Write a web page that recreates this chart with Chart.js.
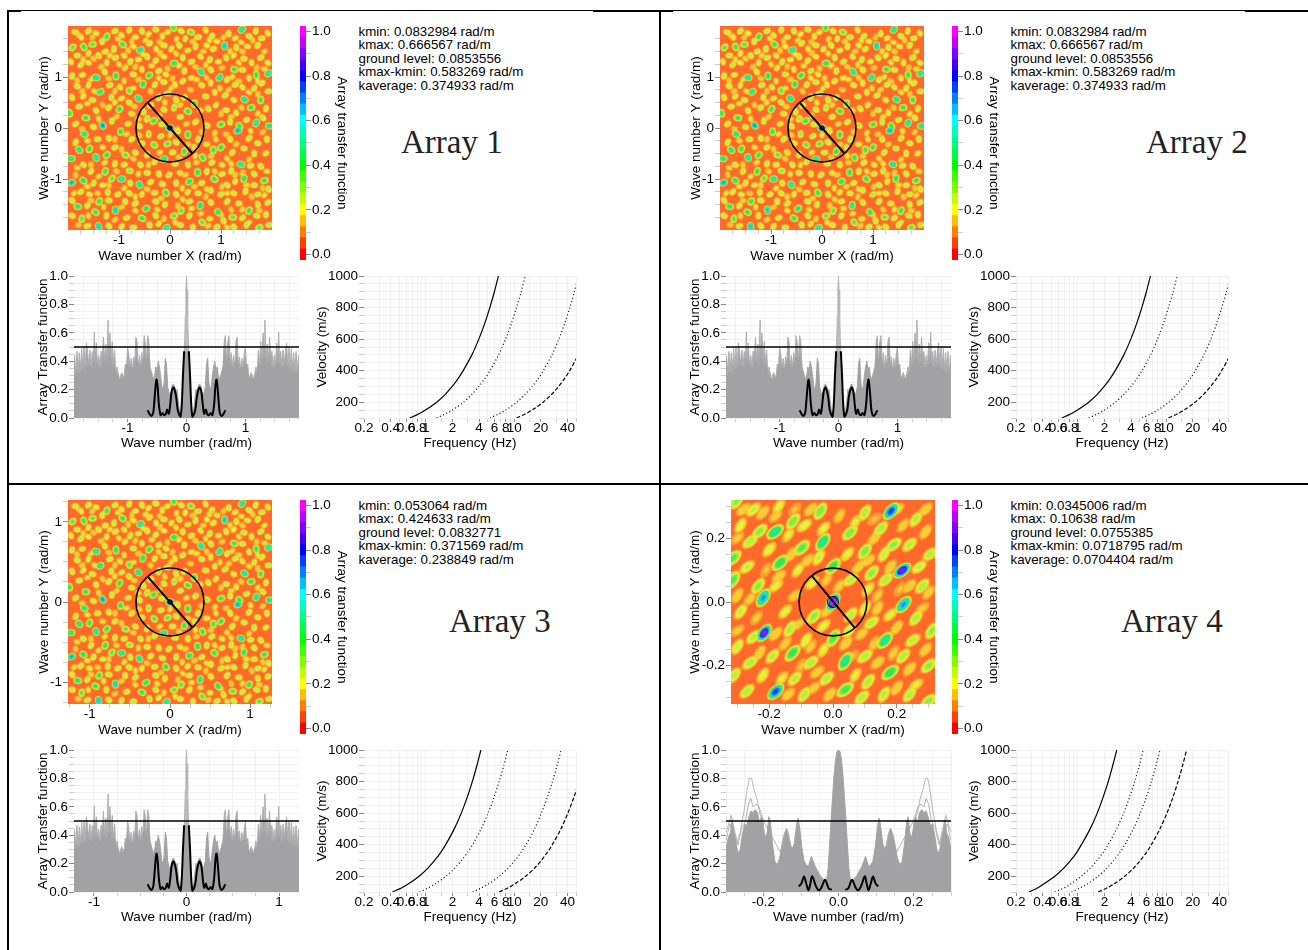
<!DOCTYPE html>
<html>
<head>
<meta charset="utf-8">
<script src="https://cdn.jsdelivr.net/npm/chart.js@4"></script>
<style>
    html, body { margin: 0; background: #fff; }
    body { position: relative; width: 1308px; height: 950px; overflow: hidden; font-family: "Liberation Sans", Arial, sans-serif; color: #000; }
    canvas { position: absolute; }
    .rule { position: absolute; background: #000; }
    .info { position: absolute; font-size: 13.3px; line-height: 13.4px; white-space: pre; }
    .name { position: absolute; font-family: "Liberation Serif", serif; font-size: 33px; line-height: 36px; color: #222; white-space: pre; }
</style>
</head>
<body>
<script>
// values

const bandFloors = [0.125, 0.175, 0.225, 0.275, 0.325, 0.375, 0.425, 0.475, 0.525, 0.575, 0.625, 0.675, 0.725, 0.775, 0.825, 0.875, 0.925, 0.975]
const heatColors = ['#fca032', '#f6ce32', '#e8f03a', '#b6f03a', '#86ec44', '#52e84c', '#32e45c', '#24e48c', '#20e4b8', '#1ee4e4', '#1ec4f0', '#1e90f0', '#1e60f0', '#1e2cf0', '#4a20f0', '#8a20e8', '#c420e4', '#f020e0']
const groundColor = '#ff6a2b'

const barLevels = [0, 0.05, 0.1, 0.15, 0.2, 0.25, 0.3, 0.35, 0.4, 0.45, 0.5, 0.55, 0.6, 0.65, 0.7, 0.75, 0.8, 0.85, 0.9, 0.95, 1]
const barColors = ['#ff0000', '#ff4000', '#ff8000', '#ffbf00', '#ffff00', '#bfff00', '#80ff00', '#40ff00', '#00ff00', '#00ff40', '#00ff80', '#00ffbf', '#00ffff', '#00bfff', '#0080ff', '#0040ff', '#0000ff', '#4000ff', '#8000ff', '#bf00ff', '#ff00ff']
const barTicks = [0, 0.1, 0.2, 0.3, 0.4, 0.5, 0.6, 0.7, 0.8, 0.9, 1]

// peaks of the transfer map, arrays 1 to 3: x, y, level
const peaksMain = [
    [0, 0, 1], [0.07, 1.97, 0.4], [1.41, 1.93, 0.55], [0.41, 1.88, 0.35], [1.07, 1.61, 0.6], [-0.58, 1.53, 0.55], [-0.93, 1.64, 0.42],
    [-1.24, 1.79, 0.4], [-1.52, 1.64, 0.36], [-1.69, 1.59, 0.4], [-1.91, 1.58, 0.36], [-1.45, 0.99, 0.55], [-1.06, 1.02, 0.45], [-1.37, 0.71, 0.5],
    [-0.62, 0.58, 0.55], [-0.53, 0.86, 0.45], [0.08, 1.27, 0.45], [0.61, 1.1, 0.55], [0.97, 0.99, 0.55], [1.26, 1.15, 0.4], [1.69, 1.04, 0.42],
    [1.93, 1.07, 0.55], [1.46, 0.56, 0.55], [1.78, 0.55, 0.4], [1.59, 0.4, 0.42], [-1.32, 0.05, 0.65], [-0.99, 0.37, 0.42], [-1.65, 0.2, 0.42],
    [-1.97, 0.29, 0.42], [-0.32, 0.14, 0.42], [0.35, 0.33, 0.4], [0.48, 0.48, 0.4], [1, 0.07, 0.4], [1.36, 0.04, 0.42], [1.69, 0.1, 0.55],
    [1.95, 0.04, 0.5], [-0.8, 0.73, 0.36], [-0.41, 1.03, 0.42], [-1.68, -0.12, 0.5], [-0.97, -0.07, 0.42], [1.33, -0.05, 0.62], [-1.78, -0.43, 0.5],
    [-1.58, -0.41, 0.42], [-1.94, -0.6, 0.5], [-1.45, -0.58, 0.55], [-1.24, -0.53, 0.42], [-0.87, -0.53, 0.36], [0.35, -0.13, 0.42], [-0.05, -0.31, 0.36],
    [-0.31, -0.33, 0.36], [0.28, -0.46, 0.42], [-0.12, -0.61, 0.55], [0.64, -0.58, 0.42], [1, -0.38, 0.42], [1.39, -0.71, 0.55], [0.85, -0.43, 0.4],
    [-1.93, -1.07, 0.62], [-1.7, -1.03, 0.45], [-1.27, -0.85, 0.42], [-0.95, -1, 0.55], [-0.6, -1.11, 0.55], [-1.14, -0.99, 0.36], [-0.79, -0.84, 0.32],
    [0.54, -0.87, 0.45], [0.38, -1.05, 0.45], [0.87, -1, 0.42], [1.45, -0.99, 0.45], [1.85, -1.03, 0.42], [-0.08, -1.27, 0.42], [-1.39, -1.44, 0.42],
    [-1.81, -1.54, 0.45], [-1.07, -1.61, 0.6], [-0.47, -1.58, 0.45], [-1.46, -1.65, 0.42], [0.59, -1.52, 0.5], [0.08, -1.72, 0.36], [0.94, -1.65, 0.45],
    [1.55, -1.62, 0.42], [1.23, -1.75, 0.36], [-1.4, -1.93, 0.6], [-0.07, -1.96, 0.55], [-0.55, -1.77, 0.42], [-1.73, -1.78, 0.36], [1.75, -1.95, 0.36],
    [0.63, -1.85, 0.36], [0.22, -1.62, 0.36],
    [-1.86, 1.88, 0.26], [-1.74, 1.78, 0.24], [-1.6, 1.9, 0.28], [-1.45, 1.86, 0.24], [-1.33, 1.7, 0.26], [-1.08, 1.9, 0.27], [-0.95, 1.82, 0.25], [-0.8, 1.92, 0.26],
    [-0.68, 1.78, 0.25], [-0.55, 1.9, 0.27], [-0.42, 1.84, 0.24], [-0.28, 1.93, 0.27], [-0.15, 1.8, 0.25], [-0.05, 1.88, 0.24], [0.22, 1.9, 0.26], [0.3, 1.75, 0.25],
    [0.55, 1.78, 0.28], [0.7, 1.92, 0.25], [0.82, 1.8, 0.27], [0.92, 1.7, 0.24], [1.15, 1.85, 0.26], [1.28, 1.76, 0.24], [1.55, 1.8, 0.28], [1.68, 1.9, 0.26],
    [1.8, 1.76, 0.27], [1.92, 1.86, 0.25], [1.72, 1.62, 0.27], [1.52, 1.6, 0.25], [1.3, 1.58, 0.27], [0.85, 1.55, 0.26], [0.72, 1.62, 0.24], [0.5, 1.6, 0.27],
    [0.35, 1.52, 0.25], [0.18, 1.62, 0.27], [0.03, 1.55, 0.25], [-0.12, 1.62, 0.27], [-0.27, 1.55, 0.24], [-0.4, 1.66, 0.26], [-0.72, 1.6, 0.24], [-1.1, 1.55, 0.28],
    [-1.27, 1.5, 0.26], [-1.4, 1.42, 0.27], [-1.6, 1.46, 0.25], [-1.82, 1.42, 0.27], [-1.94, 1.3, 0.25], [-1.75, 1.24, 0.27], [-1.6, 1.28, 0.24], [-1.24, 1.28, 0.25],
    [-1.07, 1.38, 0.27], [-0.9, 1.42, 0.25], [-0.78, 1.3, 0.28], [-0.62, 1.34, 0.25], [-0.45, 1.4, 0.27], [-0.28, 1.32, 0.26], [-0.12, 1.4, 0.24], [0.25, 1.38, 0.26],
    [0.42, 1.3, 0.27], [0.6, 1.4, 0.25], [0.78, 1.34, 0.27], [0.95, 1.3, 0.24], [1.1, 1.38, 0.27], [1.25, 1.42, 0.24], [1.45, 1.36, 0.27], [1.6, 1.28, 0.25],
    [1.78, 1.38, 0.28], [1.92, 1.28, 0.25], [-1.92, 1.02, 0.27], [-1.72, 1.04, 0.25], [-1.28, 1.1, 0.26], [-0.88, 1.18, 0.25], [-0.72, 1.05, 0.27], [-0.55, 1.15, 0.25],
    [-0.22, 1.12, 0.27], [-0.08, 1.05, 0.25], [0.28, 1.12, 0.27], [0.42, 0.98, 0.24], [0.8, 1.14, 0.27], [1.12, 0.95, 0.26], [1.42, 1.14, 0.27], [1.55, 0.98, 0.25],
    [1.8, 0.88, 0.27], [-1.82, 0.82, 0.27], [-1.6, 0.84, 0.25], [-1.18, 0.84, 0.27], [-0.98, 0.8, 0.25], [-0.3, 0.85, 0.26], [-0.12, 0.9, 0.27], [0.1, 0.85, 0.25],
    [0.25, 0.92, 0.27], [0.62, 0.84, 0.26], [0.8, 0.88, 0.25], [1.28, 0.85, 0.27], [1.42, 0.8, 0.25], [1.65, 0.78, 0.26], [1.93, 0.72, 0.28], [-1.92, 0.6, 0.27],
    [-1.7, 0.62, 0.25], [-1.52, 0.55, 0.27], [-1.15, 0.6, 0.26], [-0.95, 0.58, 0.25], [-0.8, 0.5, 0.27], [-0.22, 0.6, 0.3], [-0.05, 0.68, 0.27], [0.12, 0.55, 0.28],
    [0.28, 0.6, 0.26], [0.7, 0.62, 0.27], [0.88, 0.7, 0.25], [1.08, 0.64, 0.28], [1.25, 0.55, 0.25], [1.88, 0.38, 0.26], [-1.78, 0.42, 0.27], [-1.45, 0.34, 0.26],
    [-1.2, 0.4, 0.27], [-0.75, 0.28, 0.26], [-0.52, 0.32, 0.28], [-0.38, 0.44, 0.27], [-0.12, 0.36, 0.26], [0.08, 0.4, 0.3], [0.2, 0.22, 0.26], [0.75, 0.38, 0.28],
    [0.9, 0.45, 0.25], [1.1, 0.35, 0.27], [1.3, 0.3, 0.25], [-1.85, 0.08, 0.27], [-1.5, 0.02, 0.26], [-1.14, 0.14, 0.28], [-0.82, 0.08, 0.25], [-0.6, 0.04, 0.27],
    [-0.45, 0.18, 0.3], [-0.16, 0.07, 0.27], [0.15, -0.05, 0.28], [0.5, 0.12, 0.27], [0.72, 0.05, 0.3], [1.18, 0.12, 0.27], [1.5, 0.16, 0.26], [1.82, 0.2, 0.27],
    [-1.85, -0.28, 0.27], [-1.42, -0.22, 0.27], [-1.2, -0.2, 0.26], [-0.75, -0.22, 0.28], [-0.55, -0.3, 0.26], [-0.42, -0.12, 0.3], [-0.18, -0.16, 0.27], [0.12, -0.28, 0.28],
    [0.55, -0.22, 0.27], [0.72, -0.32, 0.25], [1.18, -0.22, 0.27], [1.55, -0.2, 0.28], [1.72, -0.3, 0.26], [1.9, -0.22, 0.27], [-1.08, -0.38, 0.27], [-0.68, -0.48, 0.26],
    [-0.45, -0.52, 0.28], [0.05, -0.48, 0.27], [0.48, -0.38, 0.26], [1.22, -0.48, 0.28], [1.45, -0.4, 0.26], [1.65, -0.5, 0.27], [1.88, -0.5, 0.25], [-1.7, -0.72, 0.27],
    [-1.08, -0.7, 0.27], [-0.9, -0.72, 0.26], [-0.58, -0.72, 0.27], [-0.3, -0.66, 0.28], [0.1, -0.7, 0.27], [0.35, -0.72, 0.26], [0.82, -0.68, 0.27], [1.02, -0.72, 0.25],
    [1.2, -0.84, 0.28], [1.58, -0.74, 0.26], [1.78, -0.75, 0.28], [-1.55, -0.85, 0.26], [-0.45, -0.88, 0.27], [-0.22, -0.9, 0.26], [-0.02, -0.92, 0.27], [0.2, -0.88, 0.25],
    [0.72, -0.85, 0.27], [1.02, -0.9, 0.26], [1.65, -0.9, 0.27], [-1.5, -1.08, 0.27], [-1.32, -1.12, 0.25], [-0.78, -1.08, 0.27], [-0.38, -1.06, 0.26], [-0.15, -1.1, 0.27],
    [0.12, -1.08, 0.28], [0.62, -1.08, 0.26], [1.12, -1.12, 0.27], [1.28, -1.05, 0.25], [1.65, -1.12, 0.27], [1.93, -1.2, 0.26], [-1.75, -1.25, 0.27], [-1.58, -1.3, 0.25],
    [-1.22, -1.26, 0.27], [-1.02, -1.3, 0.26], [-0.8, -1.28, 0.27], [-0.55, -1.3, 0.25], [-0.3, -1.27, 0.27], [0.12, -1.3, 0.27], [0.35, -1.26, 0.25], [0.55, -1.28, 0.27],
    [0.8, -1.22, 0.26], [1, -1.3, 0.28], [1.25, -1.28, 0.26], [1.48, -1.24, 0.27], [1.72, -1.3, 0.27], [-1.92, -1.42, 0.27], [-1.62, -1.52, 0.26], [-1.2, -1.42, 0.28],
    [-0.88, -1.44, 0.26], [-0.68, -1.48, 0.27], [-0.28, -1.44, 0.27], [-0.1, -1.5, 0.26], [0.38, -1.44, 0.27], [0.8, -1.46, 0.26], [1.12, -1.44, 0.28], [1.35, -1.48, 0.26],
    [1.72, -1.5, 0.27], [1.92, -1.46, 0.26], [-1.92, -1.72, 0.27], [-1.25, -1.72, 0.26], [-0.85, -1.76, 0.27], [-0.28, -1.72, 0.27], [0.38, -1.72, 0.26], [0.78, -1.78, 0.25],
    [1.05, -1.82, 0.27], [1.42, -1.76, 0.27], [1.7, -1.72, 0.28], [1.88, -1.7, 0.26], [-1.62, -1.92, 0.27], [-1.2, -1.92, 0.27], [-0.95, -1.93, 0.26], [-0.72, -1.95, 0.28],
    [-0.4, -1.9, 0.27], [-0.22, -1.88, 0.25], [0.2, -1.9, 0.27], [0.45, -1.95, 0.26], [0.92, -1.94, 0.27], [1.25, -1.94, 0.27], [1.5, -1.9, 0.26], [1.94, -1.9, 0.27],
    // thin yellow bridges between the peaks
    [-1.8, 1.83, 0.2], [-1.52, 1.78, 0.2], [-1.02, 1.75, 0.21], [-0.75, 1.7, 0.2], [-0.48, 1.72, 0.21], [-0.2, 1.68, 0.2], [0.13, 1.74, 0.21], [0.45, 1.7, 0.2], [0.77, 1.72, 0.21],
    [1.05, 1.78, 0.2], [1.4, 1.68, 0.21], [1.62, 1.72, 0.2], [1.85, 1.5, 0.21], [1.42, 1.5, 0.2], [1.18, 1.5, 0.21], [0.65, 1.5, 0.2], [0.12, 1.46, 0.21], [-0.2, 1.47, 0.2],
    [-0.52, 1.44, 0.21], [-0.82, 1.52, 0.2], [-1.18, 1.42, 0.21], [-1.5, 1.36, 0.2], [-1.7, 1.34, 0.21], [-1.35, 1.2, 0.2], [-1.0, 1.25, 0.21], [-0.68, 1.2, 0.2], [-0.36, 1.22, 0.21],
    [-0.05, 1.17, 0.2], [0.18, 1.22, 0.21], [0.5, 1.2, 0.2], [0.7, 1.24, 0.21], [1.02, 1.18, 0.2], [1.35, 1.28, 0.21], [1.7, 1.18, 0.2], [1.85, 1.16, 0.21], [-1.82, 0.93, 0.2],
    [-1.55, 0.95, 0.21], [-1.2, 0.97, 0.2], [-0.9, 0.92, 0.21], [-0.62, 0.95, 0.2], [-0.22, 0.98, 0.21], [0.05, 0.97, 0.2], [0.52, 0.95, 0.21], [0.72, 0.98, 0.2], [1.22, 1, 0.21],
    [1.35, 0.92, 0.2], [1.72, 0.92, 0.21], [-1.72, 0.72, 0.2], [-1.48, 0.72, 0.21], [-1.08, 0.72, 0.2], [-0.72, 0.78, 0.21], [-0.38, 0.72, 0.2], [0.02, 0.78, 0.21], [0.4, 0.75, 0.2],
    [0.98, 0.78, 0.21], [1.15, 0.75, 0.2], [1.55, 0.7, 0.21], [1.72, 0.66, 0.2], [-1.62, 0.48, 0.21], [-1.32, 0.45, 0.2], [-1.08, 0.5, 0.21], [-0.7, 0.42, 0.2], [-0.1, 0.5, 0.21],
    [0.2, 0.45, 0.2], [0.6, 0.35, 0.21], [1.0, 0.28, 0.2], [1.2, 0.22, 0.21], [1.4, 0.4, 0.2], [1.72, 0.28, 0.21], [-1.72, -0.02, 0.2], [-1.4, 0.18, 0.21], [-1.05, 0.22, 0.2],
    [-0.62, 0.18, 0.21], [-0.2, 0.24, 0.2], [0.32, 0.08, 0.21], [0.62, -0.08, 0.2], [0.88, -0.1, 0.21], [1.1, -0.12, 0.2], [1.58, -0.06, 0.21], [1.82, -0.08, 0.2], [-1.62, -0.25, 0.21],
    [-1.08, -0.22, 0.2], [-0.85, -0.12, 0.21], [-0.6, -0.14, 0.2], [0, -0.14, 0.21], [0.35, -0.32, 0.2], [0.9, -0.22, 0.21], [1.3, -0.32, 0.2], [-1.32, -0.38, 0.21], [-0.95, -0.42, 0.2],
    [-0.2, -0.48, 0.21], [0.18, -0.58, 0.2], [0.5, -0.55, 0.21], [0.8, -0.55, 0.2], [1.12, -0.6, 0.21], [1.55, -0.62, 0.2], [-1.82, -0.78, 0.21], [-1.55, -0.72, 0.2], [-1.28, -0.68, 0.21],
    [-0.72, -0.6, 0.2], [-0.42, -0.72, 0.21], [0.52, -0.68, 0.2], [1.2, -0.7, 0.21], [1.42, -0.88, 0.2], [1.9, -0.85, 0.21], [-1.85, -0.92, 0.2], [-1.4, -0.95, 0.21], [-1.05, -0.85, 0.2],
    [-0.62, -0.9, 0.21], [0.3, -0.92, 0.2], [0.88, -0.85, 0.21], [1.28, -0.92, 0.2], [-1.62, -1.15, 0.21], [-1.2, -1.12, 0.2], [-0.9, -1.18, 0.21], [-0.45, -1.2, 0.2], [0.24, -1.18, 0.21],
    [0.48, -1.15, 0.2], [0.72, -1.2, 0.21], [1.02, -1.15, 0.2], [1.5, -1.12, 0.21], [1.82, -1.18, 0.2], [-1.88, -1.28, 0.21], [-1.42, -1.28, 0.2], [-0.68, -1.35, 0.21], [-0.18, -1.38, 0.2],
    [0.25, -1.4, 0.21], [0.7, -1.35, 0.2], [1.12, -1.28, 0.21], [1.6, -1.35, 0.2], [1.85, -1.32, 0.21], [-1.55, -1.42, 0.2], [-1.3, -1.55, 0.21], [-0.95, -1.55, 0.2], [-0.25, -1.6, 0.21],
    [0.15, -1.52, 0.2], [0.42, -1.58, 0.21], [1.2, -1.6, 0.2], [1.42, -1.6, 0.21], [1.75, -1.62, 0.2], [-1.6, -1.72, 0.21], [-1.08, -1.8, 0.2], [-0.68, -1.62, 0.21], [-0.12, -1.78, 0.2],
    [0.6, -1.68, 0.21], [1.0, -1.7, 0.2], [1.55, -1.85, 0.21], [-1.8, -1.9, 0.2], [0.1, -1.85, 0.21], [0.75, -1.92, 0.2], [1.12, -1.95, 0.21],
]

// peaks of the transfer map, array 4: x, y, level
const peaksFour = [
    [0, 0, 1], [0.182, 0.285, 0.7], [0.217, 0.099, 0.82], [-0.216, -0.097, 0.82], [-0.18, -0.281, 0.7], [-0.219, 0.013, 0.62], [0.221, -0.008, 0.62],
    [-0.182, 0.22, 0.48], [-0.032, 0.188, 0.48], [-0.166, 0.123, 0.42], [0.038, -0.186, 0.48], [0.163, -0.12, 0.48], [0.179, -0.221, 0.42],
    [-0.125, 0.253, 0.32], [-0.098, 0.17, 0.35], [0.001, -0.113, 0.36], [-0.127, -0.16, 0.4], [0.038, -0.275, 0.38], [0.1, 0.159, 0.32],
    [0.053, 0.217, 0.32], [-0.04, 0.285, 0.33], [0.121, 0.091, 0.3], [0.19, 0.18, 0.3], [-0.303, 0.316, 0.3], [-0.313, 0.138, 0.35], [-0.313, 0.07, 0.35],
    [0, 0.112, 0.4], [-0.26, 0.19, 0.28], [-0.235, 0.05, 0.3], [-0.23, 0.222, 0.3], [-0.135, -0.085, 0.28], [-0.06, -0.045, 0.3],
    [0.301, -0.31, 0.3], [0.24, -0.29, 0.27], [0.3, -0.2, 0.3], [0.31, -0.09, 0.3], [0.28, 0.05, 0.28], [0.305, 0.15, 0.27], [0.26, 0.26, 0.26],
    [0.24, 0.18, 0.26], [0.1, 0.28, 0.27], [-0.03, 0.23, 0.22], [-0.09, 0.24, 0.24], [-0.17, 0.3, 0.22], [-0.25, 0.29, 0.25], [-0.29, 0.24, 0.23],
    [-0.2, 0.165, 0.24], [-0.27, 0.11, 0.25], [-0.11, 0.1, 0.22], [-0.065, 0.06, 0.22], [-0.045, 0.14, 0.25], [0.045, 0.15, 0.22], [0.055, 0.07, 0.26],
    [0.11, 0.04, 0.22], [0.165, 0.07, 0.28], [0.16, 0.15, 0.25], [0.15, 0.23, 0.28], [0.27, 0.11, 0.25], [0.26, -0.05, 0.28], [0.18, -0.04, 0.22],
    [0.1, -0.02, 0.24], [0.055, -0.04, 0.26], [0.12, -0.065, 0.26], [0.05, -0.09, 0.25], [-0.03, -0.075, 0.22], [-0.085, -0.12, 0.24],
    [-0.15, -0.03, 0.22], [-0.18, 0.05, 0.22], [-0.29, -0.03, 0.25], [-0.25, -0.11, 0.26], [-0.3, -0.14, 0.25], [-0.19, -0.17, 0.26], [-0.26, -0.19, 0.28],
    [-0.31, -0.23, 0.26], [-0.27, -0.28, 0.27], [-0.22, -0.23, 0.23], [-0.12, -0.24, 0.26], [-0.07, -0.19, 0.28], [-0.09, -0.29, 0.27], [-0.02, -0.24, 0.27],
    [-0.03, -0.15, 0.22], [0.04, -0.13, 0.2], [0.1, -0.17, 0.28], [0.11, -0.25, 0.28], [0.09, -0.3, 0.27], [0.16, -0.29, 0.26], [0.22, -0.17, 0.27],
    [0.25, -0.12, 0.26], [0.2, -0.08, 0.2], [-0.12, 0.02, 0.18], [0.14, 0.02, 0.17], [0.02, 0.05, 0.18], [-0.02, -0.03, 0.18], [0.3, 0.03, 0.18],
    [-0.18, 0.27, 0.18], [0.02, 0.27, 0.18], [0.22, 0.24, 0.18], [-0.3, -0.09, 0.17], [-0.15, -0.13, 0.18], [-0.06, -0.27, 0.18], [0.13, -0.13, 0.18],
    [-0.22, 0.28, 0.2], [-0.28, 0.29, 0.2], [-0.14, 0.21, 0.21], [-0.07, 0.29, 0.2], [0.07, 0.25, 0.21], [0.13, 0.2, 0.2], [0.2, 0.29, 0.21], [0.29, 0.22, 0.2], [0.29, 0.29, 0.2],
    [-0.3, 0.02, 0.2], [-0.26, 0.01, 0.18], [-0.17, 0.08, 0.2], [-0.13, 0.15, 0.2], [-0.08, 0.13, 0.19], [-0.02, 0.07, 0.17], [0.08, 0.11, 0.2], [0.11, 0.13, 0.19], [0.18, 0.11, 0.2],
    [0.24, 0.05, 0.2], [0.14, -0.02, 0.19], [0.24, -0.21, 0.2], [0.26, -0.26, 0.21], [0.2, -0.27, 0.2], [0.14, -0.19, 0.2], [0.07, -0.23, 0.21], [-0.01, -0.29, 0.2], [-0.05, -0.22, 0.19],
    [-0.16, -0.24, 0.21], [-0.14, -0.29, 0.19], [-0.23, -0.16, 0.2], [-0.18, -0.1, 0.2], [-0.11, -0.07, 0.18], [-0.07, -0.14, 0.17], [0.09, -0.1, 0.18], [0.19, -0.16, 0.17], [0.29, -0.15, 0.19],
    [0.28, -0.02, 0.17], [-0.24, -0.05, 0.17], [-0.3, 0.2, 0.17], [-0.21, 0.1, 0.16], [-0.12, 0.29, 0.16], [0.13, 0.26, 0.16], [0.21, 0.04, 0.16], [0.06, -0.17, 0.16], [-0.1, -0.2, 0.16],
]

// array response along the worst directions, half of a symmetric picture
const spikeK = [0, 0.02, 0.04, 0.06, 0.08, 0.1, 0.12, 0.14, 0.16, 0.18, 0.2, 0.22, 0.24, 0.26, 0.28, 0.3, 0.32, 0.34, 0.36, 0.38, 0.4, 0.42, 0.44, 0.46, 0.48, 0.5, 0.52, 0.54, 0.56, 0.58, 0.6, 0.62, 0.64, 0.66, 0.68, 0.7, 0.72, 0.74, 0.76, 0.78, 0.8, 0.82, 0.84, 0.86, 0.88, 0.9, 0.92, 0.94, 0.96, 0.98, 1, 1.02, 1.04, 1.06, 1.08, 1.1, 1.12, 1.14, 1.16, 1.18, 1.2, 1.22, 1.24, 1.26, 1.28, 1.3, 1.32, 1.34, 1.36, 1.38, 1.4, 1.42, 1.44, 1.46, 1.48, 1.5, 1.52, 1.54, 1.56, 1.58, 1.6, 1.62, 1.64, 1.66, 1.68, 1.7, 1.72, 1.74, 1.76, 1.78, 1.8, 1.82, 1.84, 1.86, 1.88, 1.9, 1.92]
const spikeFill = [0.47, 0.46, 0.4, 0.22, 0.08, 0.03, 0.05, 0.12, 0.2, 0.19, 0.22, 0.24, 0.23, 0.19, 0.17, 0.18, 0.22, 0.38, 0.42, 0.25, 0.2, 0.22, 0.3, 0.36, 0.4, 0.33, 0.36, 0.3, 0.27, 0.3, 0.33,
    0.36, 0.42, 0.45, 0.38, 0.42, 0.44, 0.38, 0.34, 0.36, 0.32, 0.38, 0.4, 0.42, 0.36, 0.34, 0.36, 0.32, 0.37, 0.34, 0.38, 0.36, 0.3, 0.28, 0.28, 0.26, 0.28, 0.26, 0.3, 0.28, 0.32,
    0.35, 0.38, 0.34, 0.37, 0.4, 0.42, 0.38, 0.36, 0.38, 0.4, 0.37, 0.34, 0.36, 0.32, 0.36, 0.38, 0.35, 0.39, 0.36, 0.33, 0.36, 0.34, 0.37, 0.34, 0.37, 0.33, 0.35, 0.32, 0.34, 0.3,
    0.32, 0.31, 0.33, 0.29, 0.31, 0.32]
const peakK = [0, 0.01, 0.02, 0.03, 0.05, 0.07]
const peakTop = [1, 0.9, 0.72, 0.56, 0.34, 0.14]
const spikeTopK = [0.62, 0.64, 0.66, 0.68, 0.7, 0.72, 0.74, 0.76, 0.78, 0.8, 0.82, 0.84, 0.86, 0.88, 0.9, 0.92, 0.94, 0.96, 0.98, 1, 1.02, 1.04, 1.06, 1.1, 1.14, 1.18, 1.2, 1.22, 1.24, 1.26, 1.28, 1.3, 1.32, 1.33, 1.35, 1.37, 1.39, 1.41, 1.43, 1.45, 1.47, 1.49, 1.51, 1.53, 1.55, 1.565, 1.58, 1.6, 1.62, 1.64, 1.66, 1.68, 1.7, 1.72, 1.74, 1.76, 1.78, 1.8, 1.82, 1.84, 1.86, 1.88, 1.9, 1.92]
const spikeTop = [0.36, 0.54, 0.58, 0.4, 0.53, 0.58, 0.38, 0.46, 0.36, 0.44, 0.35, 0.54, 0.57, 0.38, 0.43, 0.33, 0.42, 0.34, 0.45, 0.5, 0.36, 0.38, 0.28, 0.32, 0.27, 0.36, 0.3, 0.48, 0.38, 0.54, 0.42, 0.6, 0.5, 0.69, 0.42, 0.52, 0.4, 0.57, 0.42, 0.47, 0.36, 0.44, 0.36, 0.53, 0.42, 0.605, 0.4, 0.47, 0.36, 0.48, 0.38, 0.47, 0.53, 0.36, 0.5, 0.35, 0.49, 0.34, 0.46, 0.33, 0.47, 0.32, 0.44, 0.42]
const lobeK = [0.04, 0.06, 0.08, 0.1, 0.12, 0.15, 0.18, 0.22, 0.25, 0.28, 0.3, 0.33, 0.35, 0.38, 0.41, 0.44, 0.47, 0.49, 0.51, 0.53, 0.56, 0.58, 0.6, 0.63, 0.66]
const lobe = [0.47, 0.3, 0.1, 0.01, 0.02, 0.06, 0.16, 0.215, 0.19, 0.08, 0.03, 0.06, 0.03, 0.02, 0.035, 0.02, 0.1, 0.22, 0.27, 0.2, 0.05, 0.02, 0.015, 0.03, 0.055]

const spikeFourK = [0, 0.004, 0.008, 0.012, 0.016, 0.02, 0.024, 0.028, 0.032, 0.036, 0.04, 0.044, 0.05, 0.056, 0.062, 0.068, 0.072, 0.076, 0.08, 0.086, 0.092, 0.098, 0.104, 0.108, 0.112, 0.118, 0.124, 0.13, 0.136, 0.14, 0.146, 0.152, 0.158, 0.164, 0.17, 0.176, 0.182, 0.186, 0.19, 0.196, 0.202, 0.206, 0.21, 0.216, 0.222, 0.228, 0.234, 0.24, 0.246, 0.25, 0.256, 0.262, 0.268, 0.274, 0.28, 0.284, 0.288, 0.294, 0.3]
const spikeFourFill = [1, 0.99, 0.93, 0.82, 0.66, 0.5, 0.32, 0.16, 0.08, 0.07, 0.09, 0.1, 0.12, 0.15, 0.18, 0.22, 0.25, 0.22, 0.18, 0.19, 0.22, 0.32, 0.46, 0.52, 0.47, 0.34, 0.3, 0.34, 0.42, 0.44, 0.38, 0.3, 0.23, 0.19, 0.22, 0.34, 0.5, 0.53, 0.42, 0.38, 0.5, 0.53, 0.48, 0.56, 0.58, 0.56, 0.57, 0.52, 0.46, 0.48, 0.41, 0.3, 0.27, 0.36, 0.44, 0.51, 0.42, 0.38, 0.31]
const spikeFourTopK = [0.2, 0.21, 0.217, 0.225, 0.232, 0.238, 0.244, 0.25, 0.262, 0.27, 0.28, 0.286, 0.3]
const spikeFourTop = [0.5, 0.55, 0.65, 0.72, 0.8, 0.8, 0.72, 0.6, 0.42, 0.35, 0.47, 0.54, 0.42]
const spikeFourMidK = [0.125, 0.132, 0.138, 0.146, 0.155, 0.2, 0.212, 0.22, 0.228, 0.234, 0.24, 0.248, 0.258, 0.268, 0.278, 0.29, 0.3]
const spikeFourMid = [0.3, 0.4, 0.45, 0.4, 0.28, 0.5, 0.6, 0.62, 0.6, 0.66, 0.62, 0.5, 0.45, 0.33, 0.4, 0.48, 0.36]
const lobeFourK = [0.018, 0.026, 0.036, 0.044, 0.052, 0.06, 0.07, 0.075, 0.08, 0.086, 0.092, 0.099, 0.106]
const lobeFour = [0.016, 0.025, 0.087, 0.04, 0.012, 0.04, 0.11, 0.06, 0.012, 0.06, 0.11, 0.06, 0.04]

// velocity against frequency for the four wave numbers
const curveVelocity = [100, 125, 150, 200, 250, 300, 350, 400, 500, 600, 700, 800, 900, 1000]
const curvesMain = [
    [0.66, 0.83, 0.99, 1.33, 1.66, 1.99, 2.32, 2.65, 3.32, 3.98, 4.64, 5.3, 5.97, 6.63],
    [1.33, 1.66, 2, 2.66, 3.33, 3.99, 4.66, 5.32, 6.65, 7.98, 9.31, 10.6, 12, 13.3],
    [5.33, 6.66, 8, 10.7, 13.3, 16, 18.7, 21.3, 26.7, 32, 37.3, 42.6, 48, 53.3],
    [10.6, 13.3, 15.9, 21.2, 26.5, 31.8, 37.1, 42.4, 53, 63.6, 74.2, 84.8, 95.4, 106],
]
const curvesThree = [
    [0.42, 0.53, 0.63, 0.84, 1.05, 1.26, 1.47, 1.68, 2.1, 2.52, 2.94, 3.36, 3.78, 4.2],
    [0.85, 1.06, 1.27, 1.69, 2.11, 2.54, 2.96, 3.38, 4.23, 5.07, 5.92, 6.76, 7.61, 8.45],
    [3.39, 4.24, 5.09, 6.78, 8.48, 10.2, 11.9, 13.6, 17, 20.3, 23.7, 27.1, 30.5, 33.9],
    [6.75, 8.44, 10.1, 13.5, 16.9, 20.3, 23.6, 27, 33.8, 40.5, 47.3, 54, 60.8, 67.5],
]
const curvesFour = [
    [0.28, 0.35, 0.41, 0.55, 0.69, 0.83, 0.97, 1.1, 1.38, 1.66, 1.93, 2.21, 2.48, 2.76],
    [0.55, 0.69, 0.83, 1.1, 1.38, 1.65, 1.93, 2.2, 2.75, 3.3, 3.85, 4.4, 4.95, 5.5],
    [0.85, 1.06, 1.28, 1.7, 2.13, 2.55, 2.98, 3.4, 4.25, 5.1, 5.95, 6.8, 7.65, 8.5],
    [1.7, 2.13, 2.55, 3.4, 4.25, 5.1, 5.95, 6.8, 8.5, 10.2, 11.9, 13.6, 15.3, 17],
]
const curveDashes = [[], [1, 2.5], [1, 2.5], [4, 2]]
const freqLabels = [0.2, 0.4, 0.6, 0.8, 1, 2, 4, 6, 8, 10, 20, 40]

const infoMain = ['kmin: 0.0832984 rad/m', 'kmax: 0.666567 rad/m', 'ground level: 0.0853556', 'kmax-kmin: 0.583269 rad/m', 'kaverage: 0.374933 rad/m']
const infoThree = ['kmin: 0.053064 rad/m', 'kmax: 0.424633 rad/m', 'ground level: 0.0832771', 'kmax-kmin: 0.371569 rad/m', 'kaverage: 0.238849 rad/m']
const infoFour = ['kmin: 0.0345006 rad/m', 'kmax: 0.10638 rad/m', 'ground level: 0.0755385', 'kmax-kmin: 0.0718795 rad/m', 'kaverage: 0.0704404 rad/m']

const diagonalMain = [[-0.425, 0.484], [0.438, -0.497]]
const diagonalFour = [[-0.067, 0.083], [0.069, -0.082]]
const scaleThree = 0.6366
const levelGain = 1.12

Chart.defaults.font.family = '"Liberation Sans", Arial, sans-serif'
Chart.defaults.font.size = 13.5
Chart.defaults.color = '#000'
Chart.defaults.animation = false
Chart.defaults.plugins.legend.display = false
Chart.defaults.plugins.tooltip.enabled = false

const groundPlugin = {
    id: 'ground',
    beforeDatasetsDraw(chart) {
        const a = chart.chartArea
        chart.ctx.save()
        chart.ctx.fillStyle = groundColor
        chart.ctx.fillRect(a.left, a.top, a.right - a.left, a.bottom - a.top)
        chart.ctx.restore()
    },
}

const ringsPlugin = {
    id: 'rings',
    afterDatasetsDraw(chart, args, opts) {
        const sx = chart.scales.x
        const sy = chart.scales.y
        const ctx = chart.ctx
        ctx.save()
        ctx.strokeStyle = '#000'
        opts.radii.forEach((r, i) => {
            ctx.lineWidth = i === 0 ? 1.6 : 1
            ctx.beginPath()
            ctx.arc(sx.getPixelForValue(0), sy.getPixelForValue(0), sx.getPixelForValue(r) - sx.getPixelForValue(0), 0, Math.PI * 2)
            ctx.stroke()
        })
        ctx.restore()
    },
}

function rangeTicks(lo, hi, step) {
    const out = []
    const n = Math.round((hi - lo) / step)
    for (let i = 0; i <= n; i++) out.push(+(lo + i * step).toFixed(4))
    return out
}

function isLabelled(v, every) {
    return Math.abs(v / every - Math.round(v / every)) < 1e-6
}

function addChart(left, top, w, h, m, config) {
    const canvas = document.createElement('canvas')
    canvas.width = m.left + w + m.right
    canvas.height = m.top + h + m.bottom
    canvas.style.left = (left - m.left) + 'px'
    canvas.style.top = (top - m.top) + 'px'
    document.body.appendChild(canvas)
    config.options.responsive = false
    const onRight = m.position === 'right'
    config.options.layout = { padding: { top: m.top, right: onRight ? 0 : m.right, left: onRight ? m.left : 0, bottom: onRight ? m.bottom : 0 } }
    return new Chart(canvas, config)
}

function axis(type, min, max, ticks, every, digits, title, width, faint) {
    return {
        type,
        min,
        max,
        afterBuildTicks: (s) => { s.ticks = ticks.map((v) => ({ value: v })) },
        afterFit: (s) => { if (s.isHorizontal()) s.height = width; else s.width = width },
        border: { display: false },
        grid: {
            drawOnChartArea: faint,
            color: '#f0f0f1',
            tickLength: 5,
            tickColor: (c) => (c.tick && isLabelled(c.tick.value, every) ? '#888' : '#ccc'),
        },
        ticks: {
            autoSkip: false,
            maxRotation: 0,
            minRotation: 0,
            padding: 1,
            color: '#000',
            callback: (v) => (isLabelled(v, every) ? (digits ? v.toFixed(digits) : String(Math.round(v))) : ''),
        },
        title: { display: true, text: title, color: '#000', padding: 0, font: { size: 13.5 } },
    }
}

function bottomAxis(a) {
    a.grid.tickLength = 4
    a.ticks.padding = -2
    return a
}

const spriteCache = {}
function ellipseSprite(color, rx, ry) {
    const key = color + rx.toFixed(1) + ry.toFixed(1)
    if (spriteCache[key]) return spriteCache[key]
    const c = document.createElement('canvas')
    c.width = Math.ceil(rx * 2) + 2
    c.height = Math.ceil(ry * 2) + 2
    const g = c.getContext('2d')
    g.fillStyle = color
    g.beginPath()
    g.ellipse(c.width / 2, c.height / 2, rx, ry, 0, 0, Math.PI * 2)
    g.fill()
    spriteCache[key] = c
    return c
}

function heatChart(left, top, p) {
    const points = p.peaks.map((q, i) => ({
        x: q[0] * p.scale,
        y: q[1] * p.scale,
        z: Math.min(q[2] * levelGain, 1),
        turn: p.turn(i),
    }))
    const datasets = bandFloors.map((floor, i) => ({
        type: 'scatter',
        data: points.filter((q) => q.z > floor),
        order: 100 - i,
        clip: 0,
        pointRadius: 3,
        pointBorderWidth: 0,
        pointRotation: (c) => (c.raw ? c.raw.turn : 0),
        pointStyle: (c) => {
            if (!c.raw) return 'circle'
            const z = c.raw.z
            const outer = p.spread * Math.pow(Math.min(z, 0.42) / 0.42, 0.3)
            const r = Math.max(outer * Math.pow(Math.log(z / floor) / Math.log(z / 0.125), 0.32), 0.4)
            return ellipseSprite(heatColors[i], r * p.stretch, r)
        },
    }))
    datasets.push({
        type: 'line',
        data: p.diagonal.map((q) => ({ x: q[0] * p.scale, y: q[1] * p.scale })),
        borderColor: '#000',
        borderWidth: 2,
        pointRadius: 0,
        order: 0,
    })
    addChart(left, top, p.w, 204, { left: p.titleGap, right: 12, top: 10, bottom: 34 }, {
        type: 'scatter',
        data: { datasets },
        plugins: [groundPlugin, ringsPlugin],
        options: {
            plugins: { rings: { radii: [p.kmax, p.kmin / 2] } },
            scales: {
                x: bottomAxis(axis('linear', -p.range, p.range, rangeTicks(-p.tickTop, p.tickTop, p.minor), p.every, p.digits, 'Wave number X (rad/m)', 34, false)),
                y: axis('linear', -p.range, p.range, rangeTicks(-p.tickTop, p.tickTop, p.minor), p.every, p.digits, 'Wave number Y (rad/m)', p.titleGap, false),
            },
        },
    })
}

function colorBar(left, top) {
    addChart(left, top, 6, 234, { left: 2, right: 44, top: 10, bottom: 10, position: 'right' }, {
        type: 'bar',
        data: {
            labels: [''],
            datasets: barLevels.map((level, i) => ({
                data: [[level - 0.025, level + 0.025]],
                backgroundColor: barColors[i],
                barPercentage: 1,
                categoryPercentage: 1,
                grouped: false,
            })),
        },
        options: {
            scales: {
                x: { display: false },
                y: {
                    ...axis('linear', -0.025, 1.025, barTicks, 0.2, 1, 'Array transfer function', 44, false),
                    position: 'right',
                },
            },
        },
    })
}

function oneSide(ks, vs, scale, sign) {
    return ks.map((k, i) => ({ x: sign * k * scale, y: vs[i] }))
}

function both(ks, vs, scale) {
    const right = oneSide(ks, vs, scale, 1)
    const left = right.filter((q) => q.x > 0).map((q) => ({ x: -q.x, y: q.y })).reverse()
    return left.concat(right)
}

function spectrumChart(left, top, p) {
    const datasets = [{ data: both(p.fillK, p.fill, p.scale), borderColor: '#a2a2a5', backgroundColor: '#a2a2a5', borderWidth: 1, fill: 'origin', order: 5 }]
    if (p.peakK) {
        datasets.push({ data: both(p.peakK, p.peak, p.scale), borderColor: '#b4b4b7', backgroundColor: '#bcbcbf', borderWidth: 1, fill: 'origin', order: 8 })
    }
    ;[-1, 1].forEach((sign) => {
        if (p.midK) {
            datasets.push({ data: oneSide(p.topK, p.top, p.scale, sign), borderColor: '#b4b4b7', borderWidth: 1, order: 7 })
            datasets.push({ data: oneSide(p.midK, p.mid, p.scale, sign), borderColor: '#b4b4b7', borderWidth: 1, order: 6 })
        } else {
            datasets.push({ data: oneSide(p.topK, p.top, p.scale, sign), borderColor: '#aeaeb1', backgroundColor: '#a8a8ab', borderWidth: 1, fill: 'origin', order: 7 })
        }
        datasets.push({ data: oneSide(p.lobeK, p.lobe, p.scale, sign), borderColor: '#000', borderWidth: 2, tension: 0.35, order: 1 })
    })
    datasets.push({ data: [{ x: -p.range, y: 0.5 }, { x: p.range, y: 0.5 }], borderColor: '#000', borderWidth: 1.4, order: 0 })
    datasets.forEach((d) => { d.pointRadius = 0; d.clip = 0 })
    addChart(left, top, 225, 142, { left: 39, right: 12, top: 10, bottom: 33 }, {
        type: 'scatter',
        data: { datasets: datasets.map((d) => ({ ...d, showLine: true })) },
        options: {
            scales: {
                x: bottomAxis(axis('linear', -p.range, p.range, rangeTicks(-p.tickTop, p.tickTop, p.minor), p.every, p.digits, 'Wave number (rad/m)', 33, true)),
                y: axis('linear', 0, 1, rangeTicks(0, 1, 0.05), 0.2, 1, 'Array Transfer function', 39, true),
            },
        },
    })
}

function velocityChart(left, top, curves) {
    const datasets = curves.map((freqs, i) => ({
        data: freqs.map((f, j) => ({ x: f, y: curveVelocity[j] })),
        showLine: true,
        borderColor: '#000',
        borderWidth: 1.2,
        borderDash: curveDashes[i],
        tension: 0.3,
        pointRadius: 0,
        clip: 0,
    }))
    const x = bottomAxis(axis('logarithmic', 0.2, 50, [], 1, 0, 'Frequency (Hz)', 33, true))
    delete x.afterBuildTicks
    x.grid.tickColor = (c) => (c.tick && freqLabels.includes(+c.tick.value.toPrecision(3)) ? '#888' : '#ccc')
    x.ticks.callback = (v) => (freqLabels.includes(+v.toPrecision(3)) ? String(+v.toPrecision(3)) : '')
    addChart(left, top, 212, 142, { left: 50, right: 12, top: 10, bottom: 33 }, {
        type: 'scatter',
        data: { datasets },
        options: {
            scales: {
                x,
                y: axis('linear', 100, 1000, rangeTicks(100, 1000, 50), 200, 0, 'Velocity (m/s)', 50, true),
            },
        },
    })
}

function addText(lines, left, top) {
    const el = document.createElement('div')
    el.className = 'info'
    el.style.left = left + 'px'
    el.style.top = top + 'px'
    el.textContent = lines.join('\n')
    document.body.appendChild(el)
}

function addName(text, left, top) {
    const el = document.createElement('div')
    el.className = 'name'
    el.style.left = left + 'px'
    el.style.top = top + 'px'
    el.textContent = text
    document.body.appendChild(el)
}

function addRule(left, top, w, h) {
    const el = document.createElement('div')
    el.className = 'rule'
    el.style.cssText = `left:${left}px;top:${top}px;width:${w}px;height:${h}px`
    document.body.appendChild(el)
}

const turnMain = (i) => (i * 67) % 180
const turnFour = (i) => -48 + ((i * 7) % 5 - 2) * 5

const mainHeat = { peaks: peaksMain, scale: 1, stretch: 1.3, spread: 3.5, turn: turnMain, titleGap: 32, w: 204, range: 2, tickTop: 1.75, minor: 0.25, every: 1, digits: 0, kmax: 0.6666, kmin: 0.0833, diagonal: diagonalMain }
const threeHeat = { ...mainHeat, scale: scaleThree, range: 1.273, tickTop: 1.25, kmax: 0.4246, kmin: 0.0531 }
const fourHeat = { peaks: peaksFour, scale: 1, stretch: 1.85, spread: 6, turn: turnFour, titleGap: 44, w: 204, range: 0.32, tickTop: 0.3, minor: 0.05, every: 0.2, digits: 1, kmax: 0.1064, kmin: 0.0345, diagonal: diagonalFour }

const mainSpec = { fillK: spikeK, fill: spikeFill, peakK, peak: peakTop, topK: spikeTopK, top: spikeTop, lobeK, lobe, scale: 1, range: 1.91, tickTop: 1.75, minor: 0.25, every: 1, digits: 0 }
const threeSpec = { ...mainSpec, scale: scaleThree, range: 1.216, tickTop: 1, minor: 0.25 }
const fourSpec = { fillK: spikeFourK, fill: spikeFourFill, topK: spikeFourTopK, top: spikeFourTop, midK: spikeFourMidK, mid: spikeFourMid, lobeK: lobeFourK, lobe: lobeFour, scale: 1, range: 0.3, tickTop: 0.3, minor: 0.05, every: 0.2, digits: 1 }

const layoutPanels = [
    { dx: 0, dy: 0, heatLeft: 68, heat: mainHeat, spec: mainSpec, curves: curvesMain, info: infoMain, name: 'Array 1', nameLeft: 401, nameTop: 124 },
    { dx: 652, dy: 0, heatLeft: 720, heat: mainHeat, spec: mainSpec, curves: curvesMain, info: infoMain, name: 'Array 2', nameLeft: 1146, nameTop: 124 },
    { dx: 0, dy: 474, heatLeft: 68, heat: threeHeat, spec: threeSpec, curves: curvesThree, info: infoThree, name: 'Array 3', nameLeft: 449, nameTop: 603 },
    { dx: 652, dy: 474, heatLeft: 731, heat: fourHeat, spec: fourSpec, curves: curvesFour, info: infoFour, name: 'Array 4', nameLeft: 1121, nameTop: 603 },
]

addRule(7, 10, 2, 940)
addRule(659, 10, 2, 940)
addRule(7, 10, 1301, 1)
addRule(7, 10, 14, 2)
addRule(593, 10, 80, 2)
addRule(1245, 10, 63, 2)
addRule(7, 483, 1301, 2)

layoutPanels.forEach((p) => {
    heatChart(p.heatLeft, 26 + p.dy, p.heat)
    colorBar(300 + p.dx, 26 + p.dy)
    spectrumChart(74 + p.dx, 276 + p.dy, p.spec)
    velocityChart(364 + p.dx, 276 + p.dy, p.curves)
    addText(p.info, 358.5 + p.dx, 25 + p.dy)
    addName(p.name, p.nameLeft, p.nameTop)
})
</script>
</body>
</html>
